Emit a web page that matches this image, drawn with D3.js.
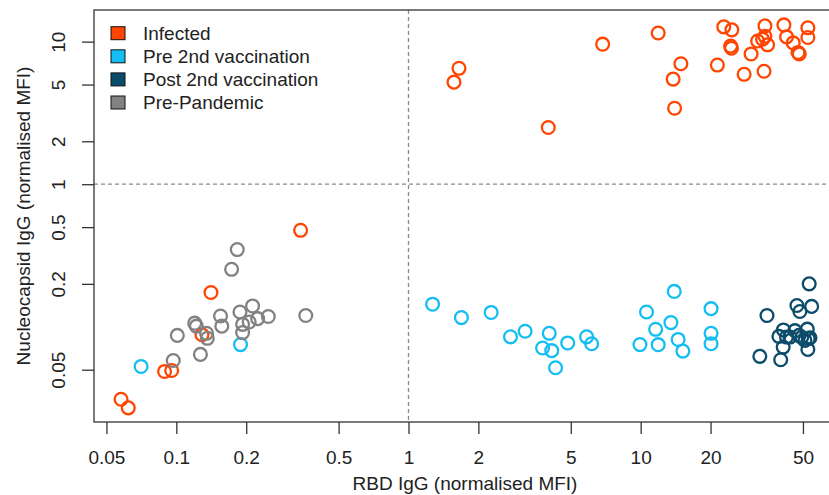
<!DOCTYPE html>
<html><head><meta charset="utf-8">
<script src="https://cdn.jsdelivr.net/npm/d3@7"></script>
<style>
body{margin:0;background:#fff}
svg{display:block}
text{font-family:"Liberation Sans",Arial,Helvetica,sans-serif;fill:#222}
</style>
</head><body>
<svg id="chart" width="829" height="495"></svg>
<script>
// ---- data (RBD IgG = x, Nucleocapsid IgG = y, normalised MFI) ----
const seriesNames = ["Infected","Pre 2nd vaccination","Post 2nd vaccination","Pre-Pandemic"];
const seriesColors = ["#FF4500","#14BDF2","#0B4C6A","#828282"];

const infectedRBD = [1.65,1.57,4.0,6.86,11.9,14.9,13.8,14.0,21.4,22.8,24.7,24.4,24.6,27.9,29.9,31.9,34.0,34.3,34.3,35.2,33.5,41.4,42.5,45.4,47.6,48.2,52.5,52.5,
  0.343,0.141,0.129,0.089,0.0955,0.0578,0.0621];
const infectedNP  = [6.5,5.2,2.5,9.6,11.5,7.0,5.46,3.41,6.85,12.7,12.1,9.3,9.0,5.9,8.2,10.1,6.2,12.9,10.9,9.5,10.4,13.1,10.8,9.8,8.4,8.2,12.5,10.7,
  0.475,0.174,0.088,0.0486,0.0494,0.031,0.027];

const preVaxRBD = [0.0705,0.189,1.27,1.69,2.27,2.75,3.18,4.04,3.78,4.14,4.3,4.85,5.85,6.15,13.95,10.6,11.6,13.5,9.93,11.9,14.5,15.2,20.1,20.1,20.1];
const preVaxNP  = [0.0527,0.075,0.144,0.116,0.126,0.085,0.093,0.090,0.071,0.068,0.0516,0.077,0.085,0.076,0.177,0.127,0.096,0.107,0.075,0.0749,0.0815,0.0675,0.134,0.090,0.076];

const postVaxRBD = [53.2,47.1,54.5,48.5,35.0,41.2,39.4,42.5,43.95,46.2,49.4,52.2,52.7,51.0,53.6,41.1,52.5,32.6,40.1,48.1];
const postVaxNP  = [0.200,0.141,0.139,0.128,0.120,0.095,0.0856,0.0847,0.0847,0.0939,0.0843,0.0962,0.0825,0.0803,0.0838,0.072,0.0694,0.062,0.0587,0.087];

const prePandemicRBD = [0.183,0.173,0.361,0.213,0.188,0.249,0.224,0.206,0.193,0.193,0.155,0.157,0.120,0.122,0.135,0.136,0.101,0.127,0.097];
const prePandemicNP  = [0.348,0.253,0.120,0.140,0.127,0.118,0.114,0.108,0.104,0.091,0.119,0.101,0.106,0.101,0.090,0.083,0.087,0.064,0.058];

const xTickValues = [0.05,0.1,0.2,0.5,1,2,5,10,20,50];
const xTickLabels = ["0.05","0.1","0.2","0.5","1","2","5","10","20","50"];
const yTickValues = [0.05,0.2,0.5,1,2,5,10];
const yTickLabels = ["0.05","0.2","0.5","1","2","5","10"];
const xTitle = "RBD IgG (normalised MFI)";
const yTitle = "Nucleocapsid IgG (normalised MFI)";
const thresholdX = 1, thresholdY = 1;

// ---- layout ----
const svg = d3.select("#chart");
const L = 94, R = 836, T = 10, B = 422;
const FS = 19;
const x = d3.scaleLog().domain([0.0442, 69.4]).range([L, R]);
const y = d3.scaleLog().domain([0.02148, 16.67]).range([B, T]);

// threshold dashed lines
svg.append("line").attr("x1", x(thresholdX)).attr("x2", x(thresholdX)).attr("y1", T).attr("y2", B)
  .attr("stroke", "#8a8a8a").attr("stroke-width", 1.3).attr("stroke-dasharray", "4,3");
svg.append("line").attr("x1", L).attr("x2", R).attr("y1", y(thresholdY)).attr("y2", y(thresholdY))
  .attr("stroke", "#8a8a8a").attr("stroke-width", 1.3).attr("stroke-dasharray", "4,3");

// points
const series = [
  {rbd: infectedRBD, np: infectedNP},
  {rbd: preVaxRBD, np: preVaxNP},
  {rbd: postVaxRBD, np: postVaxNP},
  {rbd: prePandemicRBD, np: prePandemicNP}
];
series.forEach((s, i) => {
  const pts = s.rbd.map((v, k) => [v, s.np[k]]);
  svg.append("g").selectAll("circle").data(pts).join("circle")
    .attr("cx", d => x(d[0])).attr("cy", d => y(d[1])).attr("r", 6.4)
    .attr("fill", "none").attr("stroke", seriesColors[i]).attr("stroke-width", 2.3);
});

// box
svg.append("rect").attr("x", L).attr("y", T).attr("width", R - L).attr("height", B - T)
  .attr("fill", "none").attr("stroke", "#333").attr("stroke-width", 1.3);

// x axis
const xAxis = d3.axisBottom(x).tickValues(xTickValues)
  .tickFormat((d, i) => xTickLabels[i]).tickSize(12).tickPadding(17);
const gx = svg.append("g").attr("transform", `translate(0,${B})`).call(xAxis);
gx.select(".domain").remove();
gx.selectAll(".tick line").attr("stroke", "#333").attr("stroke-width", 1.3);
gx.selectAll(".tick text").attr("font-size", FS).attr("fill", "#222")
  .style("font-family", '"Liberation Sans",Arial,sans-serif');

// y axis
const yAxis = d3.axisLeft(y).tickValues(yTickValues)
  .tickFormat((d, i) => yTickLabels[i]).tickSize(12);
const gy = svg.append("g").attr("transform", `translate(${L},0)`).call(yAxis);
gy.select(".domain").remove();
gy.selectAll(".tick line").attr("stroke", "#333").attr("stroke-width", 1.3);
gy.selectAll(".tick text")
  .attr("x", null).attr("dy", null)
  .attr("transform", "translate(-29,0) rotate(-90)")
  .attr("text-anchor", "middle")
  .attr("font-size", FS).attr("fill", "#222")
  .style("font-family", '"Liberation Sans",Arial,sans-serif');

// axis titles
svg.append("text").attr("x", (L + R) / 2).attr("y", 490).attr("text-anchor", "middle")
  .attr("font-size", FS).text(xTitle);
svg.append("text").attr("transform", `translate(29.5,${(T + B) / 2}) rotate(-90)`)
  .attr("text-anchor", "middle").attr("font-size", FS).text(yTitle);

// legend
const lg = svg.append("g");
seriesNames.forEach((name, i) => {
  const cy = 33.2 + i * 23.1;
  lg.append("rect").attr("x", 111).attr("y", cy - 6.5).attr("width", 14).attr("height", 13)
    .attr("fill", seriesColors[i]).attr("stroke", "#111").attr("stroke-width", 1);
  lg.append("text").attr("x", 143).attr("y", cy + 6.8).attr("font-size", FS).text(name);
});
</script>
</body></html>
